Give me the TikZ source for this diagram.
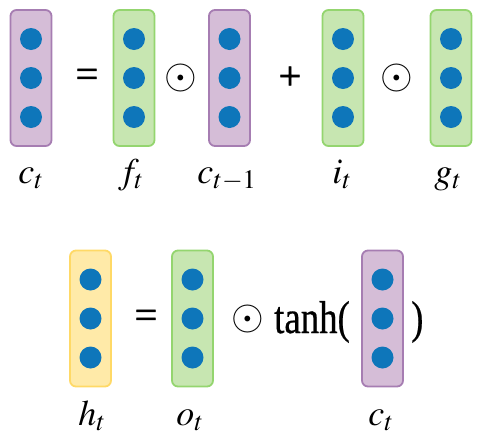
\documentclass[tikz,border=0pt]{standalone}
\usepackage{mathptmx}
\usepackage[no-math]{fontspec}
\setmainfont{Liberation Serif}
\newfontfamily\oprm[FakeBold=1.5]{Liberation Serif}
\newfontfamily\tanhrm[FakeBold=0.6]{Liberation Serif}
\definecolor{pfill}{HTML}{D5BDD7}
\definecolor{pdraw}{HTML}{A67DB2}
\definecolor{gfill}{HTML}{C7E6B1}
\definecolor{gdraw}{HTML}{94D56F}
\definecolor{yfill}{HTML}{FFEAA8}
\definecolor{ydraw}{HTML}{FFD966}
\definecolor{dotblue}{HTML}{0E76BA}
\tikzset{
  vecbox/.style={draw, rounded corners=6pt, line width=1.8pt, minimum width=41pt, minimum height=136pt, inner sep=0pt},
  pvec/.style={vecbox, draw=pdraw, fill=pfill},
  gvec/.style={vecbox, draw=gdraw, fill=gfill},
  yvec/.style={vecbox, draw=ydraw, fill=yfill},
  bluedot/.style={circle, fill=dotblue, minimum size=22pt, inner sep=0pt},
  lab/.style={font=\fontsize{36}{38}\selectfont, anchor=base, inner sep=0pt},
  op/.style={font=\fontsize{40}{44}\selectfont\oprm, inner sep=0pt},
  odot/.style={font=\fontsize{20}{24}\selectfont\boldmath, inner sep=0pt},
  bigtext/.style={font=\fontsize{46}{50}\selectfont\tanhrm, inner sep=0pt}
}
\newcommand\cellvec[4]{%
  \node[#2] (#1) at (#3,#4) {};
  \node[bluedot] (#1-1) at ([yshift=39pt]#1.center) {};
  \node[bluedot] (#1-2) at (#1.center) {};
  \node[bluedot] (#1-3) at ([yshift=-39pt]#1.center) {};
}
\newcommand\myodot{\scalebox{2.1}{$\odot$}}
\begin{document}
\begin{tikzpicture}[x=1pt,y=1pt]
\useasboundingbox (0,0) rectangle (491,-448);
% top row
\cellvec{ct}{pvec}{31}{-78}
\cellvec{ft}{gvec}{134}{-78}
\cellvec{ctm}{pvec}{229.5}{-78}
\cellvec{it}{gvec}{343}{-78}
\cellvec{gt}{gvec}{451}{-78}
\node[op] (eqa) at (87,-78) {=};
\node[odot] (oda) at (181,-78) {\myodot};
\node[op] (plus) at (290,-78) {+};
\node[odot] (odb) at (397,-78) {\myodot};
\node[lab] (lct) at (31,-183) {$c_t$};
\node[lab] (lft) at (131,-183) {$f_t$};
\node[lab] (lctm) at (227,-183) {$c_{t-1}$};
\node[lab] (lit) at (342,-183) {$i_t$};
\node[lab] (lgt) at (448,-183) {$g_t$};
% bottom row
\cellvec{ht}{yvec}{90.5}{-318.5}
\cellvec{ot}{gvec}{192.5}{-318.5}
\cellvec{cb}{pvec}{382.5}{-318.5}
\node[op] (eqb) at (146,-319) {=};
\node[odot] (odc) at (248,-319) {\myodot};
\node[bigtext, anchor=base west] (tanh) at (274,-333) {\scalebox{0.8}[1]{tanh(}};
\node[bigtext, anchor=base west] (rpar) at (411,-333) {\scalebox{0.8}[1]{)}};
\node[lab] (lht) at (92,-425) {$h_t$};
\node[lab] (lot) at (190,-425) {$o_t$};
\node[lab] (lcb) at (381,-425) {$c_t$};
\end{tikzpicture}
\end{document}
